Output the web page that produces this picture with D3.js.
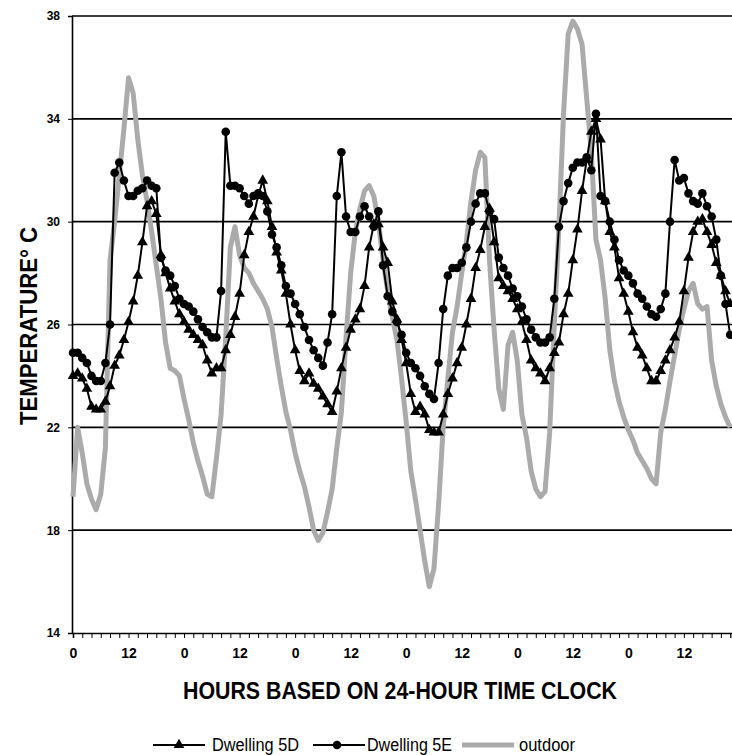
<!DOCTYPE html>
<html>
<head>
<meta charset="utf-8">
<script src="https://cdn.jsdelivr.net/npm/d3@7"></script>
<style>
  body { margin: 0; background: #fff; }
  svg { display: block; font-family: "Liberation Sans Narrow", "Liberation Sans", Arial, sans-serif; }
</style>
</head>
<body>
<svg width="732" height="755"></svg>
<script>
// hourly readings, hour 0 .. 142
var dwelling5D = [
  24.0, 24.1, 23.9, 23.5, 22.8, 22.7, 22.7, 23.0, 23.6, 24.4, 24.8, 25.4,
  26.1, 26.9, 27.9, 29.2, 30.6, 30.8, 30.3, 28.7, 28.0, 27.4, 26.9, 26.4,
  26.1, 25.8, 25.6, 25.4, 25.2, 24.6, 24.1, 24.3, 24.3, 25.0, 25.6, 26.3,
  27.2, 28.7, 29.6, 30.2, 31.0, 31.6, 30.8, 29.8, 28.8, 28.1, 27.2, 26.0,
  25.0, 24.2, 23.8, 24.1, 23.7, 23.5, 23.2, 22.9, 22.6, 23.4, 24.3, 25.1,
  25.8, 26.2, 26.6, 27.5, 29.0, 29.9, 29.9, 29.0, 28.4, 26.9, 26.2, 25.4,
  24.5, 23.3, 22.6, 22.8, 22.5, 21.9, 21.8, 21.8, 22.5, 23.3, 23.9, 24.5,
  25.1, 26.0, 27.0, 28.2, 28.9, 29.8, 30.5, 29.2, 27.8, 27.5, 27.3, 27.0,
  26.6, 26.1, 25.4, 24.6, 24.3, 24.1, 23.8, 24.3, 24.9, 25.3, 26.4, 27.2,
  28.5, 29.7, 31.2, 32.4, 33.5, 34.0, 33.2, 30.8, 29.6, 29.0, 27.8, 27.2,
  26.5, 25.7, 25.1, 24.8, 24.3, 23.8, 23.8, 24.2, 24.6, 25.0, 25.5, 26.1,
  27.3, 28.6, 29.6, 30.0, 30.1, 29.6, 29.1, 28.4, 27.9, 27.3, 26.8
];
var dwelling5E = [
  24.9, 24.9, 24.7, 24.5, 24.0, 23.8, 23.8, 24.5, 26.0, 31.9, 32.3, 31.6,
  31.0, 31.0, 31.2, 31.3, 31.6, 31.4, 31.3, 28.6, 28.1, 27.9, 27.5, 27.0,
  26.8, 26.7, 26.5, 26.2, 25.9, 25.7, 25.5, 25.5, 27.3, 33.5, 31.4, 31.4,
  31.3, 31.0, 30.7, 31.0, 31.1, 31.0, 30.4, 29.5, 29.0, 28.3, 27.5, 27.2,
  26.8, 26.4, 25.9, 25.4, 25.0, 24.7, 24.4, 25.3, 26.4, 31.0, 32.7, 30.2,
  29.6, 29.6, 30.2, 30.6, 30.2, 29.8, 30.4, 28.3, 27.1, 26.5, 26.1, 25.6,
  24.9, 24.5, 24.3, 24.0, 23.6, 23.3, 23.1, 24.5, 26.6, 27.9, 28.2, 28.2,
  28.4, 29.0, 30.0, 30.7, 31.1, 31.1, 30.4, 30.1, 28.6, 28.2, 27.9, 27.4,
  27.1, 26.7, 26.2, 25.8, 25.5, 25.3, 25.3, 25.5, 27.0, 29.8, 30.8, 31.5,
  32.1, 32.3, 32.3, 32.5, 32.0, 34.2, 31.0, 30.8, 30.0, 29.3, 28.5, 28.1,
  27.9, 27.6, 27.2, 27.0, 26.7, 26.4, 26.3, 26.6, 27.2, 30.0, 32.4, 31.6,
  31.7, 31.1, 30.8, 30.7, 31.1, 30.6, 30.2, 29.3, 27.9, 26.8, 25.6
];
var outdoor = [
  19.3, 22.0, 21.0, 19.8, 19.2, 18.8, 19.4, 21.2, 28.5, 30.0, 31.8, 33.6,
  35.6, 35.0, 33.2, 31.8, 30.8, 29.6, 28.3, 27.0, 25.3, 24.3, 24.2, 24.0,
  23.1, 22.3, 21.4, 20.7, 20.1, 19.4, 19.3, 20.8, 22.5, 25.5, 29.0, 29.8,
  28.7, 28.2, 28.0, 27.6, 27.3, 27.0, 26.6, 25.9, 24.7, 23.6, 22.6, 21.9,
  21.0, 20.3, 19.7, 18.9, 18.0, 17.6, 17.9, 18.7, 19.6, 21.2, 22.6, 25.5,
  28.0, 29.6, 30.5, 31.2, 31.4, 31.0, 30.0, 28.5, 27.3, 26.3, 25.4, 23.9,
  22.2, 20.3, 19.2, 18.0, 16.8, 15.8, 16.5, 19.0, 22.0, 23.9, 25.7, 26.7,
  28.0, 29.2, 30.8, 32.0, 32.7, 32.5, 28.5, 25.8, 23.5, 22.7, 25.2, 25.7,
  24.6, 22.5, 21.6, 20.3, 19.6, 19.3, 19.5, 21.8, 26.0, 29.8, 34.2, 37.3,
  37.8, 37.5, 36.9, 34.8, 32.7, 29.3, 28.5, 27.0, 25.0, 23.8, 23.0, 22.4,
  21.9, 21.5, 21.0, 20.7, 20.4, 20.0, 19.8, 21.8, 22.7, 23.8, 24.8, 25.8,
  26.6, 27.3, 27.6, 26.8, 26.6, 26.7, 24.6, 23.6, 22.9, 22.4, 22.0
];
var yTicks = [14, 18, 22, 26, 30, 34, 38];
var xTickHours = [0, 12, 24, 36, 48, 60, 72, 84, 96, 108, 120, 132];
var xTickLabels = ["0", "12", "0", "12", "0", "12", "0", "12", "0", "12", "0", "12"];
var seriesNames = ["Dwelling 5D", "Dwelling 5E", "outdoor"];

var svg = d3.select("svg"),
    plotLeft = 73, plotRight = 732, plotTop = 16, plotBottom = 633;

var x = d3.scaleLinear().domain([0, 142.4]).range([plotLeft, plotRight]);
var y = d3.scaleLinear().domain([14, 38]).range([plotBottom, plotTop]);

var grey = "#ababab";

// gridlines
svg.append("g").selectAll("line")
    .data(yTicks.slice(1))
    .enter().append("line")
    .attr("x1", plotLeft - 1).attr("x2", plotRight)
    .attr("y1", function(d) { return y(d); })
    .attr("y2", function(d) { return y(d); })
    .attr("stroke", "#000").attr("stroke-width", 1.6);

// y axis
var yAxis = svg.append("g")
    .attr("transform", "translate(" + (plotLeft - 1) + ",0)")
    .call(d3.axisLeft(y).tickValues(yTicks).tickSize(4).tickPadding(8));
yAxis.select(".domain").attr("stroke-width", 1.6);
yAxis.selectAll("text").attr("font-size", 12).attr("font-weight", "bold").attr("fill", "#000");

// x axis, minor ticks every 2 h
var xAxis = svg.append("g")
    .attr("transform", "translate(0," + plotBottom + ")")
    .call(d3.axisBottom(x).tickValues(d3.range(0, 143, 2)).tickSize(5).tickPadding(10)
      .tickFormat(function(d) {
        var i = xTickHours.indexOf(d);
        return i < 0 ? "" : xTickLabels[i];
      }));
xAxis.select(".domain").attr("stroke-width", 1.6);
xAxis.selectAll("text").attr("font-size", 14).attr("font-weight", "bold").attr("fill", "#000");

var line = function(vals) {
  return d3.line()
    .x(function(d, i) { return x(i); })
    .y(function(d) { return y(d); })(vals);
};

// outdoor
svg.append("path")
    .attr("d", line(outdoor))
    .attr("fill", "none")
    .attr("stroke", grey)
    .attr("stroke-width", 5)
    .attr("stroke-linejoin", "round");

// dwelling 5D
svg.append("path")
    .attr("d", line(dwelling5D))
    .attr("fill", "none").attr("stroke", "#000").attr("stroke-width", 2);
var tri = d3.symbol().type(d3.symbolTriangle).size(50);
svg.append("g").selectAll("path")
    .data(dwelling5D)
    .enter().append("path")
    .attr("d", tri)
    .attr("transform", function(d, i) { return "translate(" + x(i) + "," + y(d) + ")"; })
    .attr("fill", "#000");

// dwelling 5E
svg.append("path")
    .attr("d", line(dwelling5E))
    .attr("fill", "none").attr("stroke", "#000").attr("stroke-width", 2);
svg.append("g").selectAll("circle")
    .data(dwelling5E)
    .enter().append("circle")
    .attr("cx", function(d, i) { return x(i); })
    .attr("cy", function(d) { return y(d); })
    .attr("r", 4.3)
    .attr("fill", "#000");

// axis titles
svg.append("text")
    .attr("x", 400).attr("y", 699)
    .attr("text-anchor", "middle")
    .attr("font-size", 24).attr("font-weight", "bold")
    .attr("textLength", 434).attr("lengthAdjust", "spacingAndGlyphs")
    .text("HOURS BASED ON 24-HOUR TIME CLOCK");

svg.append("text")
    .attr("transform", "translate(37,326) rotate(-90)")
    .attr("text-anchor", "middle")
    .attr("font-size", 24).attr("font-weight", "bold")
    .attr("textLength", 198).attr("lengthAdjust", "spacingAndGlyphs")
    .text("TEMPERATURE\u00b0 C");

// legend
var leg = svg.append("g").attr("transform", "translate(0,745)");
var legX = [153, 313, 462];
var textX = [212, 367, 519];
var textW = [87, 85, 56];
legX.forEach(function(lx, i) {
  leg.append("line")
    .attr("x1", lx).attr("x2", lx + 52).attr("y1", 0).attr("y2", 0)
    .attr("stroke", i == 2 ? grey : "#000")
    .attr("stroke-width", i == 2 ? 5 : 1.8);
  if (i == 0) leg.append("path").attr("d", tri).attr("transform", "translate(" + (lx + 26) + ",0)");
  if (i == 1) leg.append("circle").attr("cx", lx + 24).attr("cy", 0).attr("r", 4.3);
  leg.append("text")
    .attr("x", textX[i]).attr("y", 6)
    .attr("font-size", 18)
    .attr("textLength", textW[i]).attr("lengthAdjust", "spacingAndGlyphs")
    .text(seriesNames[i]);
});
</script>
</body>
</html>
